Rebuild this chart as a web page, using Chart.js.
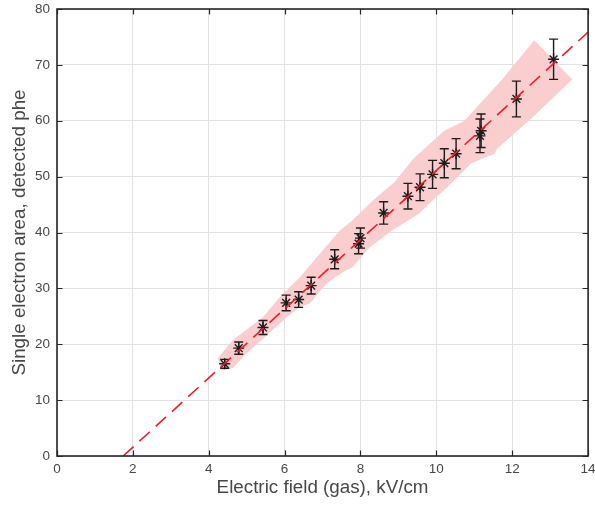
<!DOCTYPE html>
<html><head><meta charset="utf-8">
<script src="https://cdn.jsdelivr.net/npm/chart.js@4.4.1/dist/chart.umd.min.js"></script>
<style>html,body{margin:0;padding:0;background:#fff;}#wrap{width:595px;height:505px;}</style>
</head><body><div id="wrap"><canvas id="c" width="595" height="505"></canvas></div>
<script>
// ---- data ----
const fieldKV  = [4.42, 4.79, 5.43, 6.04, 6.37, 6.70, 7.32, 7.95, 8.00, 8.61, 9.25, 9.57, 9.90, 10.21, 10.52, 11.15, 11.18, 12.11, 13.09];
const sePhe    = [16.5, 19.3, 23.0, 27.4, 28.0, 30.5, 35.2, 38.0, 39.0, 43.5, 46.5, 48.1, 50.4, 52.4, 54.1, 57.3, 58.2, 63.9, 71.0];
const sePheErr = [0.8, 1.1, 1.25, 1.4, 1.4, 1.5, 1.7, 1.8, 1.8, 2.0, 2.3, 2.4, 2.5, 2.6, 2.7, 3.0, 3.0, 3.2, 3.6];

// linear fit line endpoints
const fitX = [1.745, 14];
const fitY = [0, 75.85];

// shaded band outline
const bandUpperX = [4.24, 4.63, 5.42, 5.87, 6.39, 7.00, 7.45, 7.79, 8.32, 8.89, 9.42, 10.21, 10.74, 11.71, 12.58];
const bandUpperY = [17.5, 20.7, 24.8, 28.4, 31.9, 36.8, 40.3, 42.2, 45.7, 49.0, 53.4, 58.2, 60.0, 67.2, 74.4];
const bandLowerX = [13.58, 12.58, 12.45, 11.60, 11.53, 10.92, 10.29, 9.89, 9.55, 8.84, 8.24, 7.79, 7.53, 7.11, 6.66, 6.39, 6.05, 5.00, 4.63, 4.34];
const bandLowerY = [67.4, 60.9, 60.1, 55.0, 54.1, 52.4, 48.1, 45.7, 43.4, 40.4, 37.3, 33.8, 32.9, 30.9, 27.3, 26.6, 24.8, 18.4, 15.7, 15.3];

const xTicks = [0, 2, 4, 6, 8, 10, 12, 14];
const yTicks = [0, 10, 20, 30, 40, 50, 60, 70, 80];

const FONT = "'Liberation Sans', Helvetica, Arial, sans-serif";
const AXC = '#262626';
const TXC = '#474747';

const bandPlugin = {
  id: 'band',
  beforeDatasetsDraw(chart) {
    const {ctx, chartArea: a, scales: {x, y}} = chart;
    ctx.save();
    ctx.beginPath(); ctx.rect(a.left, a.top, a.right - a.left, a.bottom - a.top); ctx.clip();
    ctx.beginPath();
    bandUpperX.forEach((v, i) => {
      const px = x.getPixelForValue(v), py = y.getPixelForValue(bandUpperY[i]);
      if (i === 0) ctx.moveTo(px, py); else ctx.lineTo(px, py);
    });
    bandLowerX.forEach((v, i) => ctx.lineTo(x.getPixelForValue(v), y.getPixelForValue(bandLowerY[i])));
    ctx.closePath();
    ctx.fillStyle = 'rgb(250,205,207)';
    ctx.fill();
    ctx.restore();
  }
};

const errPlugin = {
  id: 'errbars',
  afterDatasetDraw(chart, args) {
    if (args.index !== 1) return;
    const {ctx, scales: {x, y}} = chart;
    ctx.save();
    ctx.strokeStyle = '#1c1c1c';
    ctx.lineWidth = 1.4;
    fieldKV.forEach((v, i) => {
      const px = x.getPixelForValue(v);
      const pt = y.getPixelForValue(sePhe[i] + sePheErr[i]);
      const pb = y.getPixelForValue(sePhe[i] - sePheErr[i]);
      ctx.beginPath();
      ctx.moveTo(px, pt); ctx.lineTo(px, pb);
      ctx.moveTo(px - 4.5, pt); ctx.lineTo(px + 4.5, pt);
      ctx.moveTo(px - 4.5, pb); ctx.lineTo(px + 4.5, pb);
      ctx.stroke();
    });
    ctx.restore();
  }
};

const boxPlugin = {
  id: 'box',
  afterDatasetsDraw(chart) {
    const {ctx, chartArea: a, scales: {x, y}} = chart;
    ctx.save();
    ctx.strokeStyle = AXC;
    ctx.lineWidth = 1.2;
    ctx.beginPath();
    xTicks.forEach(v => {
      const px = Math.round(x.getPixelForValue(v)) + 0.5;
      ctx.moveTo(px, a.bottom); ctx.lineTo(px, a.bottom - 5.5);
      ctx.moveTo(px, a.top); ctx.lineTo(px, a.top + 5.5);
    });
    yTicks.forEach(v => {
      const py = Math.round(y.getPixelForValue(v)) + 0.5;
      ctx.moveTo(a.left, py); ctx.lineTo(a.left + 5.5, py);
      ctx.moveTo(a.right, py); ctx.lineTo(a.right - 5.5, py);
    });
    ctx.stroke();
    ctx.lineWidth = 1.6;
    ctx.strokeRect(a.left, a.top, a.right - a.left, a.bottom - a.top);
    ctx.restore();
  }
};

new Chart(document.getElementById('c'), {
  type: 'scatter',
  data: {
    datasets: [
      {
        label: 'fit',
        data: fitX.map((v, i) => ({x: v, y: fitY[i]})),
        showLine: true,
        borderColor: '#ee1d25',
        borderWidth: 1.6,
        borderDash: [14, 8],
        pointRadius: 0,
        fill: false,
        order: 0
      },
      {
        label: 'data',
        data: fieldKV.map((v, i) => ({x: v, y: sePhe[i]})),
        pointStyle: 'star',
        pointRadius: 5.5,
        borderColor: '#1c1c1c',
        backgroundColor: '#1c1c1c',
        borderWidth: 1.4,
        order: 1
      }
    ]
  },
  options: {
    responsive: false,
    animation: false,
    devicePixelRatio: 1,
    layout: {padding: {top: 9, right: 6, left: 0, bottom: 0}},
    plugins: {legend: {display: false}, tooltip: {enabled: false}},
    scales: {
      x: {
        type: 'linear', min: 0, max: 14,
        afterBuildTicks(s) { s.ticks = xTicks.map(v => ({value: v})); },
        ticks: {font: {family: FONT, size: 13.5}, color: TXC, padding: 5, maxRotation: 0},
        grid: {color: '#e2e2e2', lineWidth: 1, drawTicks: false},
        border: {display: false},
        title: {display: true, text: 'Electric field (gas), kV/cm', font: {family: FONT, size: 18.8}, color: TXC, padding: {top: 0, bottom: 6}},
        afterFit(s) { s.height = 49; s.paddingLeft = 0; s.paddingRight = 0; }
      },
      y: {
        type: 'linear', min: 0, max: 80,
        afterBuildTicks(s) { s.ticks = yTicks.map(v => ({value: v})); },
        ticks: {font: {family: FONT, size: 13.5}, color: TXC, padding: 7},
        grid: {color: '#e2e2e2', lineWidth: 1, drawTicks: false},
        border: {display: false},
        title: {display: true, text: 'Single electron area, detected phe', font: {family: FONT, size: 18.8}, color: TXC, padding: {top: 8.5, bottom: 0}},
        afterFit(s) { s.width = 57; s.paddingTop = 0; s.paddingBottom = 0; }
      }
    }
  },
  plugins: [bandPlugin, errPlugin, boxPlugin]
});
</script>
</body></html>
